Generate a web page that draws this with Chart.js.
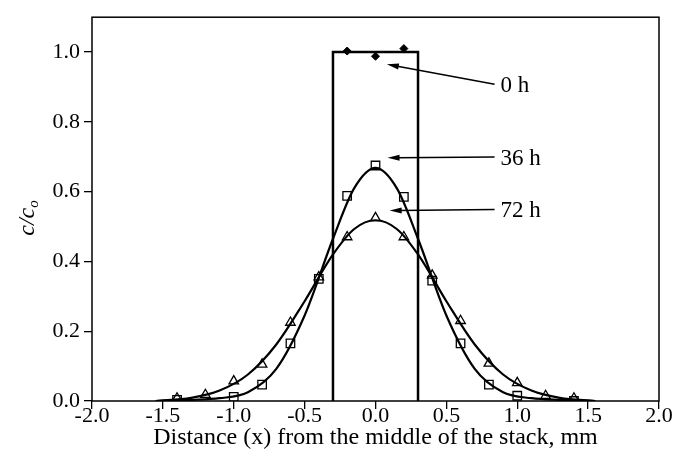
<!DOCTYPE html>
<html>
<head>
<meta charset="utf-8">
<script src="https://cdn.jsdelivr.net/npm/chart.js@4/dist/chart.umd.min.js"></script>
<style>
  html, body { margin: 0; padding: 0; background: #fff; }
  #wrap { width: 674px; height: 460px; }
</style>
</head>
<body>
<div id="wrap"><canvas id="chart"></canvas></div>
<script>
// tick values
const xTicks = [-2.0, -1.5, -1.0, -0.5, 0.0, 0.5, 1.0, 1.5, 2.0];
const yTicks = [0.0, 0.2, 0.4, 0.6, 0.8, 1.0];

// initial profile (0 h), a step
const step0hX = [-0.3, -0.3, 0.3, 0.3];
const step0hY = [0, 1.0, 1.0, 0];

// measured points
const meas0hX = [-0.2, 0.0, 0.2];
const meas0hY = [1.003, 0.988, 1.01];
const meas36hX = [-1.4, -1.0, -0.8, -0.6, -0.4, -0.2, 0.0, 0.2, 0.4, 0.6, 0.8, 1.0, 1.4];
const meas36hY = [0.003, 0.012, 0.047, 0.165, 0.35, 0.588, 0.675, 0.585, 0.345, 0.165, 0.047, 0.015, 0.0];
const meas72hX = [-1.4, -1.2, -1.0, -0.8, -0.6, -0.4, -0.2, 0.0, 0.2, 0.4, 0.6, 0.8, 1.0, 1.2, 1.4];
const meas72hY = [0.008, 0.018, 0.057, 0.105, 0.225, 0.355, 0.47, 0.525, 0.47, 0.36, 0.23, 0.108, 0.052, 0.015, 0.008];

// fitted curves
const fitX    = [-1.55, -1.3, -1.1, -0.9, -0.7, -0.5, -0.3, -0.15, 0.0, 0.15, 0.3, 0.5, 0.7, 0.9, 1.1, 1.3, 1.55];
const fit36hY = [0, 0.003, 0.008, 0.025, 0.092, 0.245, 0.465, 0.61, 0.668, 0.61, 0.465, 0.245, 0.092, 0.025, 0.008, 0.003, 0];
const fit72hY = [0, 0.009, 0.03, 0.076, 0.162, 0.286, 0.42, 0.493, 0.518, 0.493, 0.42, 0.286, 0.162, 0.076, 0.03, 0.009, 0];

const serif = '"Liberation Serif", "Times New Roman", serif';
const pts = (xs, ys) => xs.map((x, i) => ({ x, y: ys[i] }));

/* ── arrows with labels, in data units ── */
const callouts = [
  { text: '0 h',  tip: [0.08, 0.965], tail: [0.84, 0.908] },
  { text: '36 h', tip: [0.085, 0.697], tail: [0.84, 0.699] },
  { text: '72 h', tip: [0.10, 0.546], tail: [0.84, 0.549] },
];

const decor = {
  id: 'decor',
  afterDatasetsDraw(chart) {
    const { ctx, chartArea: a, scales: { x, y } } = chart;
    ctx.save();
    // frame
    ctx.strokeStyle = '#000';
    ctx.lineWidth = 1.5;
    ctx.strokeRect(a.left, a.top, a.right - a.left, a.bottom - a.top);

    // callouts
    ctx.fillStyle = '#000';
    ctx.font = '23px ' + serif;
    ctx.textBaseline = 'middle';
    callouts.forEach(c => {
      const tx = x.getPixelForValue(c.tip[0]),  ty = y.getPixelForValue(c.tip[1]);
      const ex = x.getPixelForValue(c.tail[0]), ey = y.getPixelForValue(c.tail[1]);
      const ang = Math.atan2(ty - ey, tx - ex);
      ctx.lineWidth = 1.5;
      ctx.beginPath();
      ctx.moveTo(ex, ey);
      ctx.lineTo(tx - Math.cos(ang) * 8, ty - Math.sin(ang) * 8);
      ctx.stroke();
      ctx.beginPath();
      ctx.moveTo(tx, ty);
      ctx.lineTo(tx - Math.cos(ang) * 12 + Math.sin(ang) * 3, ty - Math.sin(ang) * 12 - Math.cos(ang) * 3);
      ctx.lineTo(tx - Math.cos(ang) * 12 - Math.sin(ang) * 3, ty - Math.sin(ang) * 12 + Math.cos(ang) * 3);
      ctx.closePath();
      ctx.fill();
      ctx.fillText(c.text, ex + 6, ey + 2);
    });

    // y title c/c with subscript o
    ctx.translate(26, 218);
    ctx.rotate(-Math.PI / 2);
    ctx.font = 'italic 24px ' + serif;
    const w1 = ctx.measureText('c/c').width;
    ctx.font = 'italic 15px ' + serif;
    const w2 = ctx.measureText('o').width;
    ctx.textBaseline = 'alphabetic';
    ctx.font = 'italic 24px ' + serif;
    ctx.fillText('c/c', -(w1 + w2) / 2, 8);
    ctx.font = 'italic 15px ' + serif;
    ctx.fillText('o', -(w1 + w2) / 2 + w1, 12);
    ctx.restore();
  }
};

const tickGrid = { display: true, drawOnChartArea: false, drawTicks: true, tickLength: 8, color: '#000', lineWidth: 1.3 };

new Chart(document.getElementById('chart'), {
  type: 'scatter',
  data: {
    datasets: [
      { data: pts(step0hX, step0hY), showLine: true, borderColor: '#000', borderWidth: 2.5, pointRadius: 0, tension: 0 },
      { data: pts(fitX, fit36hY), showLine: true, borderColor: '#000', borderWidth: 2.2, pointRadius: 0, cubicInterpolationMode: 'monotone' },
      { data: pts(fitX, fit72hY), showLine: true, borderColor: '#000', borderWidth: 2.2, pointRadius: 0, cubicInterpolationMode: 'monotone' },
      { data: pts(meas0hX, meas0hY), pointStyle: 'rectRot', pointRadius: 4, backgroundColor: '#000', borderColor: '#000', borderWidth: 1 },
      { data: pts(meas36hX, meas36hY), pointStyle: 'rect', pointRadius: 6, backgroundColor: 'rgba(255,255,255,0)', borderColor: '#000', borderWidth: 1.3 },
      { data: pts(meas72hX, meas72hY), pointStyle: 'triangle', pointRadius: 5.5, backgroundColor: 'rgba(255,255,255,0)', borderColor: '#000', borderWidth: 1.3 },
    ]
  },
  options: {
    responsive: true,
    maintainAspectRatio: false,
    animation: false,
    layout: { padding: { left: 0, right: 15, top: 13, bottom: 0 } },
    plugins: { legend: { display: false }, tooltip: { enabled: false } },
    scales: {
      x: {
        type: 'linear', min: -2, max: 2,
        afterBuildTicks: s => { s.ticks = xTicks.map(v => ({ value: v })); },
        afterFit: s => { s.height = 59; },
        grid: tickGrid,
        border: { display: false },
        ticks: { color: '#000', font: { family: serif, size: 22 }, padding: -6, maxRotation: 0, callback: v => v.toFixed(1) },
        title: { display: true, text: 'Distance (x) from the middle of the stack, mm', color: '#000', font: { family: serif, size: 24 }, padding: { top: 0, bottom: 8 } }
      },
      y: {
        type: 'linear', min: 0, max: 1.1,
        afterBuildTicks: s => { s.ticks = yTicks.map(v => ({ value: v })); },
        afterFit: s => { s.width = 92; },
        grid: tickGrid,
        border: { display: false },
        ticks: { color: '#000', font: { family: serif, size: 22 }, padding: 4, callback: v => v.toFixed(1) }
      }
    }
  },
  plugins: [decor]
});
</script>
</body>
</html>
